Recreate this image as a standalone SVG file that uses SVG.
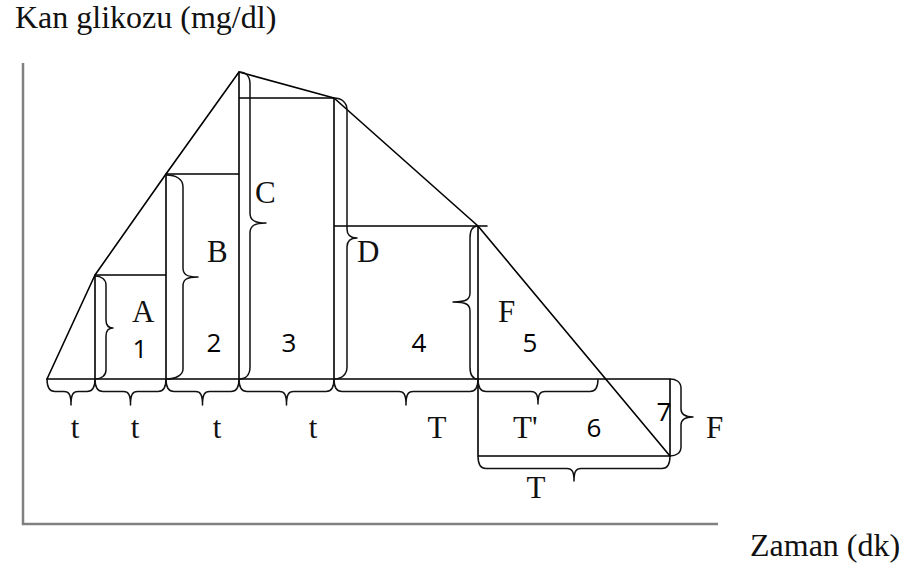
<svg xmlns="http://www.w3.org/2000/svg" width="909" height="570" viewBox="0 0 909 570">
<style>
.ln{fill:none;stroke:#000;stroke-width:1.6;stroke-linejoin:round;stroke-linecap:round}
.br{fill:none;stroke:#111;stroke-width:1.5;stroke-linejoin:round}
.ax{fill:none;stroke:#808080;stroke-width:2.5}
.tm{font-family:"Liberation Serif","Times New Roman",serif;font-size:31px;fill:#111}
.tl{font-family:"Liberation Serif","Times New Roman",serif;font-size:32px;fill:#111}
.nm{font-family:"Open Sans","Noto Sans",sans-serif;font-size:26px;fill:#000}
</style>
<rect width="909" height="570" fill="#fff"/>
<g id="axes">
<path class="ax" d="M23 63 L23 524 L718 524"/>
<text class="tl" x="15" y="28">Kan glikozu (mg/dl)</text>
<text class="tl" x="750" y="556">Zaman (dk)</text>
</g>
<g id="connectors">
<polyline class="ln" points="47,379 95,275 166,174 239,72 334,98 478,226 670,456"/>
<path class="ln" d="M47 379 L670 379 M95 275 L95 379 M95 275 L166 275 M166 174 L166 379 M166 174 L239 174 M239 72 L239 379 M239 98 L334 98 M334 98 L334 379 M334 226 L487 226 M478 226 L478 456 L670 456 L670 379"/>
</g>
<g id="braces">
<path class="br" d="M47 379 C47 387.8 50.2 391.5 55 391.5 L64 391.5 C69 391.5 71 394.5 71 405 C71 394.5 73 391.5 78 391.5 L87 391.5 C91.8 391.5 95 387.8 95 379"/>
<path class="br" d="M95 379 C95 387.8 98.2 391.5 103 391.5 L123.5 391.5 C128.5 391.5 130.5 394.5 130.5 405 C130.5 394.5 132.5 391.5 137.5 391.5 L158 391.5 C162.8 391.5 166 387.8 166 379"/>
<path class="br" d="M166 379 C166 387.8 169.2 391.5 174 391.5 L195.5 391.5 C200.5 391.5 202.5 394.5 202.5 405 C202.5 394.5 204.5 391.5 209.5 391.5 L231 391.5 C235.8 391.5 239 387.8 239 379"/>
<path class="br" d="M239 379 C239 387.8 242.2 391.5 247 391.5 L279.5 391.5 C284.5 391.5 286.5 394.5 286.5 405 C286.5 394.5 288.5 391.5 293.5 391.5 L326 391.5 C330.8 391.5 334 387.8 334 379"/>
<path class="br" d="M334 379 C334 387.8 337.2 391.5 342 391.5 L399 391.5 C404 391.5 406 394.5 406 405 C406 394.5 408 391.5 413 391.5 L470 391.5 C474.8 391.5 478 387.8 478 379"/>
<path class="br" d="M478 379 C478 387.8 481.2 391.5 486 391.5 L531 391.5 C536 391.5 538 394.5 538 404 C538 394.5 540 391.5 545 391.5 L590 391.5 C594.8 391.5 598 387.8 598 379"/>
<path class="br" d="M478 456 C478 464.8 481.2 468.5 486 468.5 L567 468.5 C572 468.5 574 471.5 574 481 C574 471.5 576 468.5 581 468.5 L662 468.5 C666.8 468.5 670 464.8 670 456"/>
<path class="br" d="M95 276 C101.6 276 106 279.6 106 285 L106 320 C106 325 108 328 113 328 C108 328 106 331 106 336 L106 370 C106 375.4 101.6 379 95 379"/>
<path class="br" d="M166 175 C176 175 183 179 183 187 L183 268 C183 274 186 277 198 277 C186 277 183 280 183 286 L183 369 C183 375 176 379 166 379"/>
<path class="br" d="M239 72 C245.6 72 250 76 250 84 L250 213 C250 219 253 223 266 223 C253 223 250 227 250 233 L250 367 C250 375 245.6 379 239 379"/>
<path class="br" d="M334 98 C341 98 347 102 347 110 L347 229 C347 235 350 238 357 238 C350 238 347 241 347 247 L347 367 C347 375 341 379 334 379"/>
<path class="br" d="M478 226 C473 226 470 230 470 238 L470 293 C470 299 467 302 453 302 C467 302 470 305 470 311 L470 367 C470 375 473 379 478 379"/>
<path class="br" d="M670 379 C676 379 681 382 681 388 L681 409 C681 414 684 417 693 417 C684 417 681 420 681 425 L681 447 C681 453 676 456 670 456"/>
</g>
<g id="labels">
<text class="tm" x="132" y="322">A</text>
<text class="tm" x="207" y="262">B</text>
<text class="tm" x="255" y="203">C</text>
<text class="tm" x="357" y="262">D</text>
<text class="tm" x="498" y="322">F</text>
<text class="tm" x="706" y="438">F</text>
<text class="tm" x="75" y="438" text-anchor="middle">t</text>
<text class="tm" x="135" y="438" text-anchor="middle">t</text>
<text class="tm" x="217" y="438" text-anchor="middle">t</text>
<text class="tm" x="313" y="438" text-anchor="middle">t</text>
<text class="tm" x="437" y="438" text-anchor="middle">T</text>
<text class="tm" x="513" y="438">T'</text>
<text class="tm" x="536" y="498" text-anchor="middle">T</text>
</g>
<g id="numbers">
<text class="nm" x="140" y="358" text-anchor="middle">1</text>
<text class="nm" x="214" y="352" text-anchor="middle">2</text>
<text class="nm" x="289" y="352" text-anchor="middle">3</text>
<text class="nm" x="419" y="352" text-anchor="middle">4</text>
<text class="nm" x="530" y="352" text-anchor="middle">5</text>
<text class="nm" x="594" y="437" text-anchor="middle">6</text>
<text class="nm" x="664" y="421" text-anchor="middle">7</text>
</g>
</svg>
